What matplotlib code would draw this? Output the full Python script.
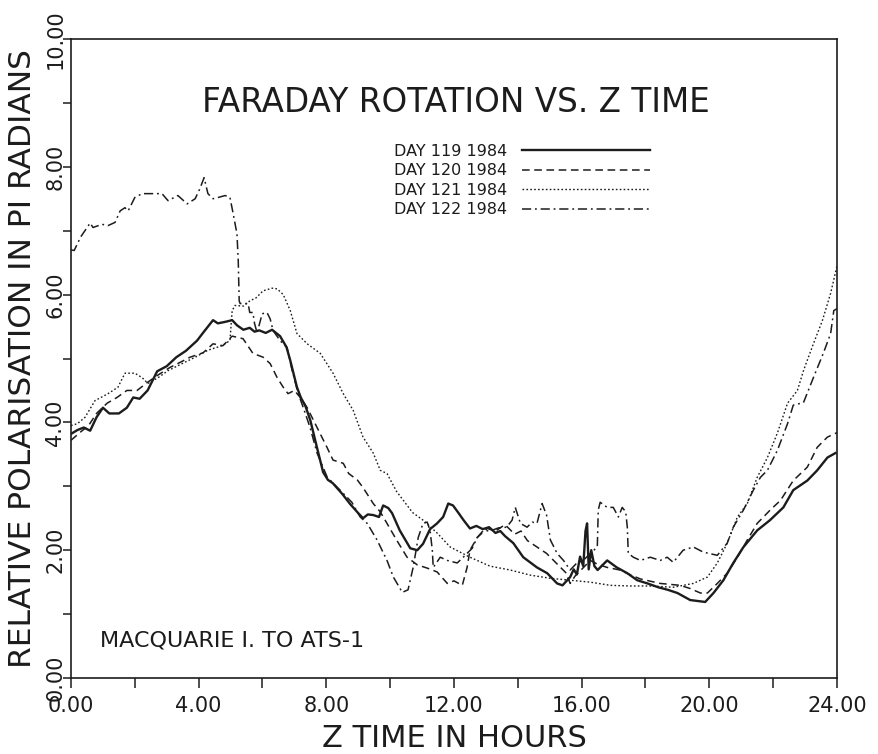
import matplotlib
matplotlib.use("Agg")
import matplotlib.pyplot as plt

# values (hours, relative polarisation in pi radians)
hours_119 = [0.0, 0.2, 0.4, 0.6, 0.8, 1.0, 1.2, 1.5, 1.75, 1.95, 2.15, 2.4, 2.7, 3.0, 3.3, 3.6,
             3.95, 4.15, 4.45, 4.6, 4.8, 5.05, 5.2, 5.4, 5.6, 5.75, 5.9, 6.1, 6.3, 6.55, 6.75,
             6.87, 7.08, 7.2, 7.35, 7.5, 7.7, 7.9, 8.05, 8.2, 8.5, 8.75, 9.0, 9.15, 9.3, 9.47,
             9.65, 9.78, 9.94, 10.06, 10.3, 10.63, 10.85, 11.03, 11.25, 11.47, 11.66, 11.82,
             11.97, 12.13, 12.3, 12.5, 12.7, 12.9, 13.1, 13.3, 13.45, 13.6, 13.86, 14.17, 14.6,
             14.92, 15.23, 15.4, 15.64, 15.75, 15.85, 15.95, 16.05, 16.12, 16.17, 16.22, 16.3,
             16.4, 16.5, 16.8, 17.1, 17.43, 17.74, 18.06, 18.4, 18.7, 19.0, 19.4, 19.87, 20.13,
             20.44, 20.75, 21.07, 21.5, 21.9, 22.32, 22.63, 23.07, 23.38, 23.7, 23.95]
pol_119 = [3.82, 3.88, 3.92, 3.87, 4.08, 4.23, 4.14, 4.14, 4.23, 4.39, 4.37, 4.5, 4.8, 4.88, 5.02,
           5.12, 5.28, 5.41, 5.6, 5.55, 5.57, 5.6, 5.52, 5.45, 5.48, 5.42, 5.44, 5.4, 5.45, 5.35,
           5.18, 4.97, 4.55, 4.39, 4.25, 4.03, 3.62, 3.22, 3.1, 3.05, 2.88, 2.72, 2.58, 2.5, 2.56,
           2.55, 2.52, 2.7, 2.66, 2.58, 2.31, 2.03, 2.0, 2.1, 2.33, 2.42, 2.52, 2.73, 2.7, 2.59,
           2.47, 2.34, 2.38, 2.33, 2.36, 2.27, 2.3, 2.22, 2.11, 1.89, 1.73, 1.64, 1.48, 1.45, 1.58,
           1.7, 1.62, 1.9, 1.75, 2.3, 2.42, 1.7, 2.0, 1.75, 1.69, 1.84, 1.73, 1.64, 1.53, 1.48,
           1.42, 1.38, 1.33, 1.22, 1.19, 1.33, 1.53, 1.8, 2.05, 2.31, 2.47, 2.67, 2.94, 3.09, 3.25,
           3.45, 3.52]

hours_120 = [0.0, 0.3, 0.55, 0.8, 1.13, 1.44, 1.75, 2.07, 2.38, 2.69, 3.1, 3.42, 3.73, 4.14, 4.45,
             4.76, 5.05, 5.39, 5.7, 6.02, 6.24, 6.46, 6.65, 6.8, 7.0, 7.2, 7.4, 7.71, 8.02, 8.21,
             8.53, 8.7, 8.97, 9.15, 9.47, 9.69, 9.9, 10.2, 10.53, 10.85, 11.16, 11.47, 11.79, 12.0,
             12.26, 12.41, 12.5, 12.73, 13.04, 13.3, 13.6, 13.9, 14.1, 14.3, 14.6, 14.9, 15.2,
             15.5, 15.64, 15.8, 16.0, 16.27, 16.5, 16.8, 17.2, 17.5, 17.84, 18.46, 19.09, 19.4,
             19.72, 19.94, 20.25, 20.56, 20.88, 21.19, 21.5, 21.91, 22.23, 22.63, 23.07, 23.38,
             23.7, 24.0]
pol_120 = [3.72, 3.85, 3.95, 4.14, 4.3, 4.39, 4.5, 4.5, 4.62, 4.73, 4.86, 4.94, 5.02, 5.09, 5.23,
           5.2, 5.35, 5.31, 5.08, 5.02, 4.92, 4.7, 4.55, 4.45, 4.5, 4.38, 4.23, 3.92, 3.61, 3.41,
           3.36, 3.2, 3.1, 2.98, 2.73, 2.6, 2.42, 2.16, 1.89, 1.77, 1.72, 1.66, 1.48, 1.52, 1.45,
           1.73, 2.0, 2.2, 2.34, 2.3, 2.4, 2.25, 2.3, 2.15, 2.05, 1.95, 1.8, 1.65, 1.48, 1.6, 1.7,
           1.84, 1.78, 1.73, 1.69, 1.62, 1.55, 1.48, 1.45, 1.4, 1.33, 1.33, 1.48, 1.64, 1.89, 2.16,
           2.42, 2.63, 2.78, 3.09, 3.3, 3.61, 3.77, 3.84]

hours_121 = [0.0, 0.2, 0.44, 0.75, 1.16, 1.47, 1.69, 2.0, 2.23, 2.41, 2.73, 3.04, 3.48, 3.89, 4.29,
             4.73, 4.98, 5.05, 5.14, 5.4, 5.6, 5.8, 6.02, 6.3, 6.46, 6.65, 6.87, 7.08, 7.4, 7.81,
             8.21, 8.53, 8.84, 9.15, 9.47, 9.69, 9.9, 10.2, 10.7, 11.03, 11.47, 11.88, 12.5, 13.13,
             13.76, 14.39, 15.02, 15.64, 16.27, 16.9, 17.52, 18.15, 18.87, 19.5, 19.94, 20.25,
             20.56, 20.88, 21.19, 21.5, 21.82, 22.13, 22.45, 22.76, 22.95, 23.26, 23.54, 23.8, 24.0]
pol_121 = [3.95, 3.98, 4.08, 4.34, 4.45, 4.55, 4.77, 4.77, 4.7, 4.61, 4.7, 4.81, 4.92, 5.02, 5.13,
           5.2, 5.28, 5.75, 5.83, 5.82, 5.9, 5.95, 6.06, 6.1, 6.09, 6.0, 5.75, 5.39, 5.23, 5.08,
           4.77, 4.45, 4.19, 3.77, 3.52, 3.25, 3.2, 2.92, 2.59, 2.47, 2.27, 2.05, 1.89, 1.75, 1.69,
           1.61, 1.56, 1.53, 1.5, 1.45, 1.44, 1.44, 1.42, 1.48, 1.58, 1.8, 2.11, 2.52, 2.73, 3.14,
           3.45, 3.83, 4.3, 4.5, 4.81, 5.23, 5.59, 6.02, 6.45]

hours_122 = [0.0, 0.1, 0.3, 0.6, 0.69, 0.97, 1.16, 1.38, 1.54, 1.69, 1.79, 2.0, 2.23, 2.54, 2.85,
             3.04, 3.35, 3.64, 3.89, 4.04, 4.17, 4.29, 4.45, 4.61, 4.83, 4.98, 5.08, 5.2, 5.24,
             5.27, 5.3, 5.55, 5.6, 5.7, 5.75, 5.83, 5.99, 6.14, 6.24, 6.33, 6.55, 6.77, 6.93, 7.12,
             7.3, 7.49, 7.71, 8.03, 8.43, 8.8, 9.06, 9.28, 9.59, 9.9, 10.1, 10.38, 10.56, 10.72,
             10.88, 11.03, 11.16, 11.25, 11.32, 11.35, 11.57, 11.79, 12.1, 12.29, 12.57, 12.73,
             12.92, 13.13, 13.4, 13.65, 13.82, 13.92, 14.08, 14.29, 14.45, 14.6, 14.76, 14.9, 15.02,
             15.23, 15.43, 15.64, 15.85, 16.05, 16.27, 16.49, 16.52, 16.58, 16.8, 16.99, 17.15,
             17.27, 17.38, 17.43, 17.46, 17.62, 17.84, 18.15, 18.46, 18.68, 18.87, 19.18, 19.5,
             19.81, 20.25, 20.56, 20.75, 21.07, 21.38, 21.6, 21.82, 22.13, 22.45, 22.63, 22.95,
             23.26, 23.57, 23.8, 23.9, 24.0]
pol_122 = [6.7, 6.69, 6.9, 7.12, 7.05, 7.1, 7.08, 7.13, 7.31, 7.36, 7.31, 7.52, 7.58, 7.58, 7.58,
           7.47, 7.55, 7.42, 7.5, 7.66, 7.83, 7.58, 7.5, 7.52, 7.55, 7.52, 7.27, 6.95, 6.53, 5.9,
           5.86, 5.86, 5.72, 5.72, 5.55, 5.4, 5.7, 5.72, 5.62, 5.44, 5.28, 5.17, 4.81, 4.45, 4.2,
           3.92, 3.52, 3.14, 2.94, 2.75, 2.52, 2.42, 2.16, 1.84, 1.58, 1.34, 1.38, 1.73, 2.2, 2.42,
           2.44, 2.31, 2.0, 1.73, 1.89, 1.84, 1.8, 1.89, 2.03, 2.2, 2.31, 2.3, 2.35, 2.36, 2.47,
           2.67, 2.42, 2.36, 2.44, 2.42, 2.73, 2.55, 2.16, 1.95, 1.84, 1.69, 1.8, 1.84, 1.95, 2.05,
           2.63, 2.75, 2.67, 2.67, 2.52, 2.67, 2.6, 2.36, 1.95, 1.89, 1.84, 1.89, 1.84, 1.89, 1.81,
           2.0, 2.05, 1.97, 1.92, 2.11, 2.36, 2.63, 2.94, 3.14, 3.25, 3.56, 3.98, 4.27, 4.31, 4.7,
           5.08, 5.39, 5.75, 5.78]

day_labels = ["DAY 119 1984", "DAY 120 1984", "DAY 121 1984", "DAY 122 1984"]
x_ticks = [0, 4, 8, 12, 16, 20, 24]
y_ticks = [0, 2, 4, 6, 8, 10]

ink = "#1c1c1c"

fig = plt.figure(figsize=(8.79, 7.54), dpi=100)
ax = fig.add_axes([71 / 879, 76 / 754, 766 / 879, 639 / 754])

ax.plot(hours_119, pol_119, color=ink, lw=1.7, label=day_labels[0])
ax.plot(hours_120, pol_120, color=ink, lw=1.1, dashes=(5, 3), label=day_labels[1])
ax.plot(hours_121, pol_121, color=ink, lw=1.0, dashes=(1.2, 1.6), label=day_labels[2])
ax.plot(hours_122, pol_122, color=ink, lw=1.1, dashes=(6, 2.5, 1.2, 2.5), label=day_labels[3])

ax.set_xlim(0, 24)
ax.set_ylim(0, 10)
ax.set_xticks(x_ticks)
ax.set_xticklabels([f"{v:.2f}" for v in x_ticks], fontsize=15, color=ink)
ax.set_xticks([2, 6, 10, 14, 18, 22], minor=True)
ax.set_yticks(y_ticks)
ax.set_yticklabels([f"{v:.2f}" for v in y_ticks], fontsize=15, color=ink,
                   rotation=90, va="center")
ax.set_yticks([1, 3, 5, 7, 9], minor=True)
ax.tick_params(axis="x", which="both", direction="out", length=7, width=1.1,
               color=ink, pad=6)
ax.tick_params(axis="y", which="both", direction="out", length=6, width=1.1,
               color=ink, pad=-2)
for s in ax.spines.values():
    s.set_linewidth(1.2)
    s.set_color(ink)

ax.set_xlabel("Z TIME IN HOURS", fontsize=22, color=ink, labelpad=6)
ax.set_ylabel("RELATIVE POLARISATION IN PI RADIANS", fontsize=22.5, color=ink, labelpad=6)

ax.text(0.503, 0.901, "FARADAY ROTATION VS. Z TIME", transform=ax.transAxes,
        ha="center", va="center", fontsize=23.5, color=ink)
ax.text(0.038, 0.058, "MACQUARIE I. TO ATS-1", transform=ax.transAxes,
        ha="left", va="center", fontsize=16, color=ink)

ax.legend(loc="upper right", bbox_to_anchor=(0.756, 0.836), frameon=False,
          markerfirst=False, handlelength=8.0, handletextpad=0.95,
          labelspacing=0.28, fontsize=11.5, borderpad=0, borderaxespad=0,
          labelcolor=ink)

fig.savefig("out.png", dpi=100)
